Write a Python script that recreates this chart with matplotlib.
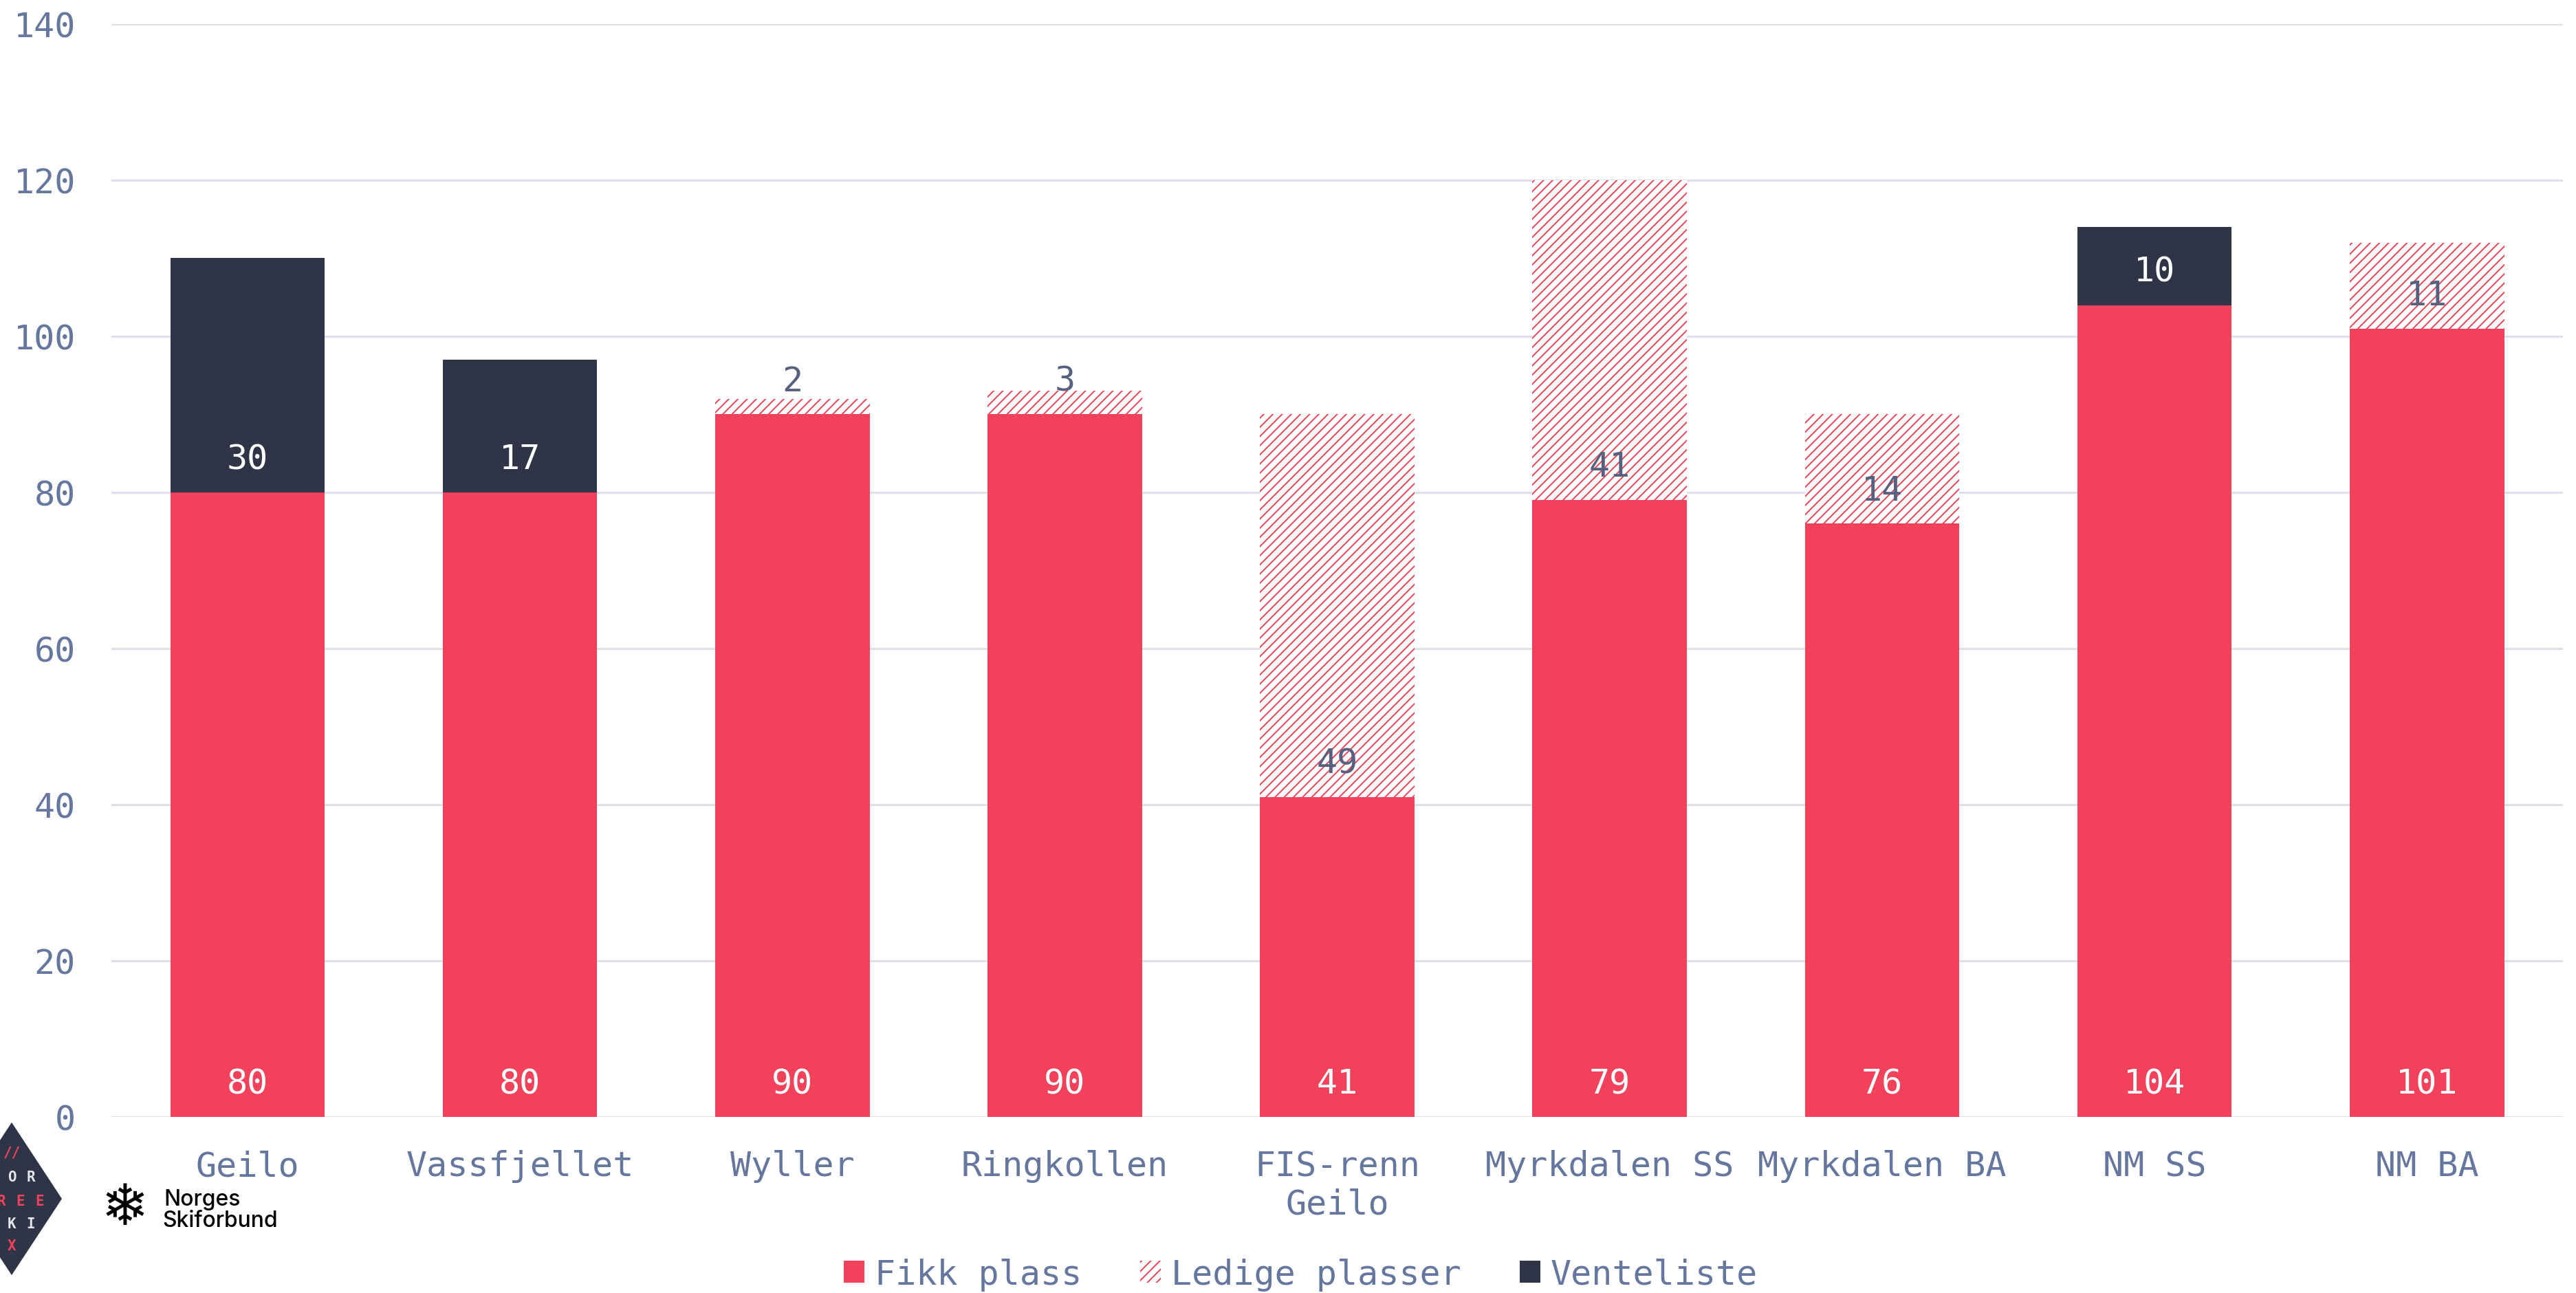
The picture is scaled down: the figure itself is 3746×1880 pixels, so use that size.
import numpy as np
import matplotlib.pyplot as plt
from matplotlib.patches import Patch, Polygon

# data
steder = ['Geilo', 'Vassfjellet', 'Wyller', 'Ringkollen', 'FIS-renn\nGeilo',
          'Myrkdalen SS', 'Myrkdalen BA', 'NM SS', 'NM BA']
fikk_plass = np.array([80, 80, 90, 90, 41, 79, 76, 104, 101])
ledige = np.array([0, 0, 2, 3, 49, 41, 14, 0, 11])
venteliste = np.array([30, 17, 0, 0, 0, 0, 0, 10, 0])
yticks = [0, 20, 40, 60, 80, 100, 120, 140]

red = '#F2415A'
navy = '#2F3546'
tickcol = '#66779F'
gridcol = '#DDE0E8'
mono = 'DejaVu Sans Mono'

plt.rcParams['hatch.linewidth'] = 0.7

fig = plt.figure(figsize=(18.73, 9.405), dpi=200)
ax = fig.add_axes([0.0432, 0.1361, 0.9518, 0.8448])

x = np.arange(len(steder))
w = 0.567
ax.bar(x, fikk_plass, width=w, color=red, lw=0, zorder=2)
ax.bar(x, ledige, width=w, bottom=fikk_plass, facecolor='white',
       edgecolor=red, hatch='/////', lw=0, zorder=2)
ax.bar(x, venteliste, width=w, bottom=fikk_plass + ledige, color=navy,
       lw=0, zorder=2)

off = 4.3
for i in range(len(steder)):
    ax.text(x[i], off, str(fikk_plass[i]), ha='center', va='center',
            color='white', fontsize=18, family=mono, zorder=3)
    if ledige[i] > 0:
        ax.text(x[i], fikk_plass[i] + off, str(ledige[i]), ha='center',
                va='center', color='#56617F', fontsize=18, family=mono, zorder=3)
    if venteliste[i] > 0:
        ax.text(x[i], fikk_plass[i] + ledige[i] + off, str(venteliste[i]),
                ha='center', va='center', color='white', fontsize=18,
                family=mono, zorder=3)

ax.set_xlim(-0.5, 8.5)
ax.set_ylim(0, 140)
ax.set_yticks(yticks)
ax.set_xticks(x)
ax.set_xticklabels(steder, linespacing=1.2)
for s in ax.spines.values():
    s.set_visible(False)
ax.yaxis.grid(True, color=gridcol, lw=1.1)
ax.set_axisbelow(True)
ax.tick_params(axis='y', length=0, pad=18.7, labelcolor=tickcol, labelsize=18)
ax.tick_params(axis='x', length=0, pad=17, labelcolor=tickcol, labelsize=18)
for lab in ax.get_xticklabels() + ax.get_yticklabels():
    lab.set_family(mono)

# legend
handles = [Patch(facecolor=red, lw=0),
           Patch(facecolor='white', edgecolor=red, hatch='/////', lw=0),
           Patch(facecolor=navy, lw=0)]
fig.legend(handles, ['Fikk plass', 'Ledige plasser', 'Venteliste'],
           loc='center', bbox_to_anchor=(0.505, 0.0144), ncol=3, frameon=False,
           handlelength=0.6, handleheight=0.6, handletextpad=0.3,
           columnspacing=1.7, prop={'family': mono, 'size': 18},
           labelcolor=tickcol)

# logos bottom left
W, H = 3746.0, 1881.0
def fx(px):
    return px / W
def fy(py):
    return 1 - py / H

dia = Polygon([(fx(17), fy(1633)), (fx(90), fy(1744)), (fx(17), fy(1855)),
               (fx(-56), fy(1744))], closed=True, facecolor=navy, lw=0,
              transform=fig.transFigure)
fig.patches.append(dia)
letters = [('//', 17, 1677, red), ('O', 17, 1712, '#E6E6EA'), ('R', 45, 1712, '#E6E6EA'),
           ('R', 2, 1747, red), ('E', 30, 1747, red), ('E', 58, 1747, red),
           ('K', 17, 1780, '#E6E6EA'), ('I', 45, 1780, '#E6E6EA'), ('X', 17, 1812, red)]
for t, px, py, c in letters:
    fig.text(fx(px), fy(py), t, color=c, fontsize=7.5, fontweight='bold',
             ha='center', va='center', family=mono)

fig.text(fx(181), fy(1758), '\u2744', fontsize=30, color='black',
         ha='center', va='center', family='DejaVu Sans')
fig.text(fx(238), fy(1745), 'Norges', fontsize=11.5, color='black',
         ha='left', va='center', family='Inter', fontweight='medium')
fig.text(fx(236), fy(1776), 'Skiforbund', fontsize=11.5, color='black',
         ha='left', va='center', family='Inter', fontweight='medium')

fig.savefig('out.png', dpi=200)
